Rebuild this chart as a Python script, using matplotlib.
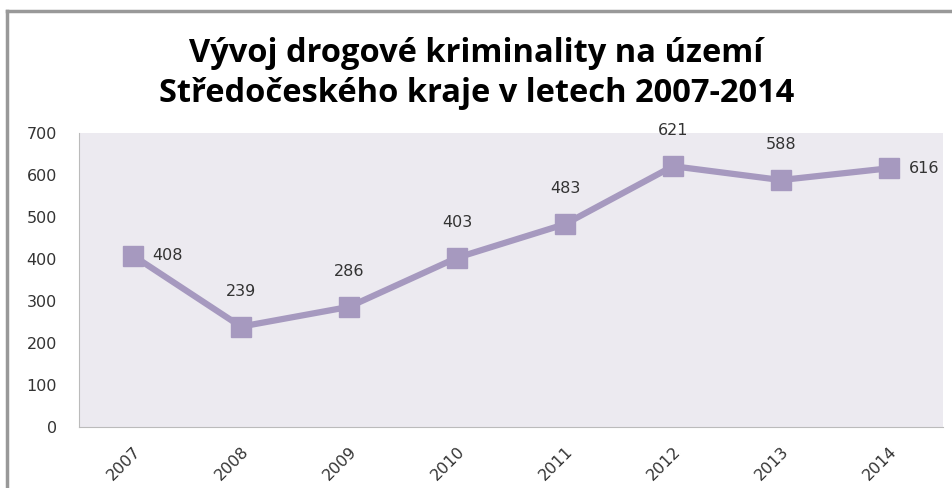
import matplotlib
matplotlib.use('Agg')
import matplotlib.pyplot as plt
from matplotlib.lines import Line2D

years = ['2007', '2008', '2009', '2010', '2011', '2012', '2013', '2014']
cases = [408, 239, 286, 403, 483, 621, 588, 616]
yticks = [0, 100, 200, 300, 400, 500, 600, 700]

line_color = '#A699BF'

fig = plt.figure(figsize=(9.53, 4.88), dpi=100)
ax = fig.add_axes([79 / 953, 1 - 427 / 488, (943 - 79) / 953, (427 - 133) / 488])
ax.set_facecolor('#ECEAF0')

x = range(len(years))
ax.plot(x, cases, color=line_color, linewidth=4.5, marker='s', markersize=15,
        solid_joinstyle='round')

# value labels: first and last to the right, the rest above
for i, v in enumerate(cases):
    if i == 0 or i == len(cases) - 1:
        ax.annotate(str(v), (i, v), xytext=(14, 0), textcoords='offset points',
                    ha='left', va='center', fontsize=11.5, color='#333333')
    else:
        ax.annotate(str(v), (i, v), xytext=(0, 20), textcoords='offset points',
                    ha='center', va='bottom', fontsize=11.5, color='#333333')

ax.set_xlim(-0.5, len(years) - 0.5)
ax.set_ylim(0, 700)
ax.set_yticks(yticks)
ax.set_xticks(list(x))
ax.set_xticklabels(years, rotation=45, ha='right', rotation_mode='anchor', fontsize=11)
ax.tick_params(axis='both', length=0, labelsize=11.5, colors='#333333')
ax.tick_params(axis='y', pad=16)
ax.tick_params(axis='x', pad=12)
for side in ['top', 'right']:
    ax.spines[side].set_visible(False)
ax.spines['left'].set_color('#BBBBBB')
ax.spines['bottom'].set_color('#BBBBBB')

fig.text(0.5, 1 - 53 / 488, 'Vývoj drogové kriminality na území', ha='center', va='center',
         fontsize=23.5, fontweight='bold', family='Open Sans')
fig.text(0.5, 1 - 93 / 488, 'Středočeského kraje v letech 2007-2014', ha='center', va='center',
         fontsize=23.5, fontweight='bold', family='Open Sans')

# outer chart frame (left and top edges visible)
fig.add_artist(Line2D([7 / 953, 7 / 953], [0, 1 - 11 / 488], color='#999999', linewidth=2.5))
fig.add_artist(Line2D([7 / 953, 1], [1 - 11 / 488, 1 - 11 / 488], color='#999999', linewidth=2.5))

plt.savefig('out.png', dpi=100)
